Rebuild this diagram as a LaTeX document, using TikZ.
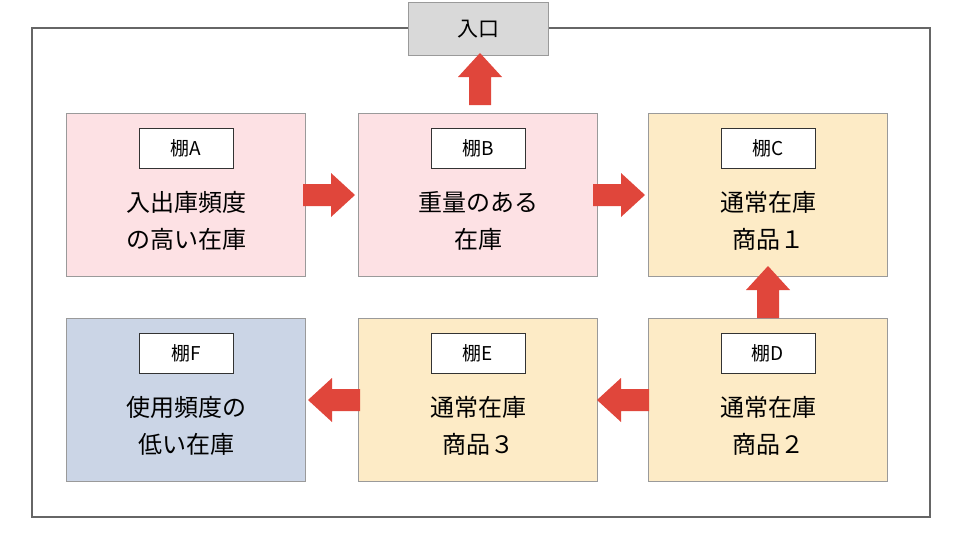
\documentclass[tikz,border=0pt]{standalone}
\usepackage{fontspec}
\newfontfamily\cjk{Noto Sans CJK JP}
\usetikzlibrary{calc}
\definecolor{pk}{HTML}{FDE1E4}
\definecolor{yl}{HTML}{FDEBC6}
\definecolor{bl}{HTML}{CBD5E6}
\definecolor{rd}{HTML}{E0463B}
\definecolor{bd}{HTML}{9A9A9A}
\tikzset{
 box/.style={draw=bd,line width=1pt,minimum width=239pt,minimum height=163pt,anchor=north west},
 tag/.style={draw=black!80,fill=white,line width=0.8pt,minimum width=94pt,minimum height=40pt,font=\cjk\fontsize{19}{19}\selectfont},
 txt/.style={align=center,font=\cjk\fontsize{24}{37}\selectfont},
 arr/.pic={\fill[rd] (-26,-11) -- (2,-11) -- (2,-22) -- (26,0) -- (2,22) -- (2,11) -- (-26,11) -- cycle;}
}
\begin{document}
\begin{tikzpicture}[x=1pt,y=-1pt]
\useasboundingbox (0,0) rectangle (959,533);
\draw[draw=black!60,line width=2.5pt] (32,28) rectangle (930,517);
\node[draw=bd,fill=black!15,line width=1pt,minimum width=140pt,minimum height=53pt,anchor=north west] (ent) at (408,2) {};
\node at (ent.center) {\cjk\fontsize{21}{21}\selectfont 入口};
\foreach \n/\x/\y/\c/\t/\l in {A/66/113/pk/棚A/入出庫頻度\\の高い在庫, B/358/113/pk/棚B/重量のある\\在庫, C/648/113/yl/棚C/通常在庫\\商品１, F/66/318/bl/棚F/使用頻度の\\低い在庫, E/358/318/yl/棚E/通常在庫\\商品３, D/648/318/yl/棚D/通常在庫\\商品２}{
 \node[box,fill=\c] (\n) at (\x,\y) {};
 \node[tag] (t\n) at ([yshift=-35pt]\n.north) {\t};
 \node[txt] (l\n) at ([yshift=-108pt]\n.north) {\l};
}
\pic[rotate=90] at (480,79) {arr};
\pic at (329,195) {arr};
\pic at (619,195) {arr};
\pic[rotate=90] at (768,292) {arr};
\pic[rotate=180] at (623,400) {arr};
\pic[rotate=180] at (334,400) {arr};
\end{tikzpicture}
\end{document}
